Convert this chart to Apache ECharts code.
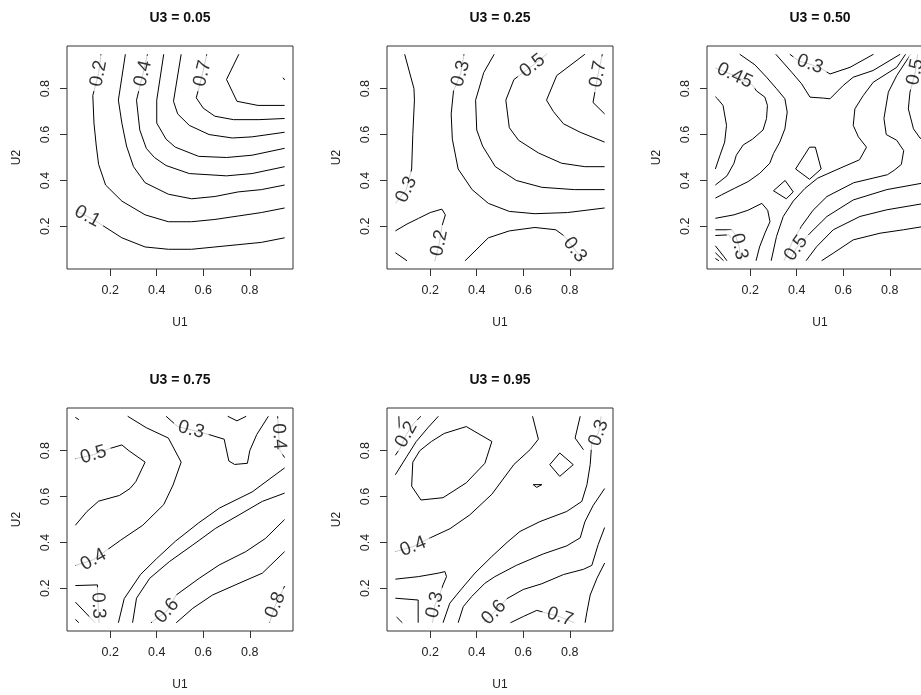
<!DOCTYPE html>
<html><head><meta charset="utf-8">
<script src="https://cdn.jsdelivr.net/npm/echarts@6/dist/echarts.min.js"></script>
<style>html,body{margin:0;padding:0;background:#fff;overflow:hidden}#chart{width:960px;height:695px}</style>
</head><body><div id="chart"></div>
<script>
// ---------- data ----------
const panelTitles = ['U3 = 0.05', 'U3 = 0.25', 'U3 = 0.50', 'U3 = 0.75', 'U3 = 0.95'];
const tickValues = [0.2, 0.4, 0.6, 0.8];
const axisMin = 0.014, axisMax = 0.986;
const xName = 'U1', yName = 'U2';

// contour polylines, [U1, U2] pairs
const p1Lines = [
  [[0.05,0.27],[0.102,0.243],[0.15,0.215],[0.25,0.15],[0.35,0.11],[0.45,0.10],[0.55,0.10],[0.65,0.11],[0.75,0.12],[0.85,0.13],[0.95,0.15]],
  [[0.16,0.95],[0.15,0.866],[0.125,0.77],[0.13,0.65],[0.14,0.55],[0.15,0.47],[0.18,0.38],[0.25,0.31],[0.35,0.25],[0.45,0.22],[0.55,0.22],[0.65,0.23],[0.75,0.245],[0.85,0.26],[0.95,0.28]],
  [[0.265,0.95],[0.25,0.85],[0.235,0.75],[0.25,0.65],[0.27,0.55],[0.30,0.46],[0.35,0.39],[0.45,0.34],[0.55,0.32],[0.65,0.33],[0.75,0.35],[0.85,0.36],[0.95,0.38]],
  [[0.36,0.95],[0.341,0.866],[0.313,0.75],[0.327,0.62],[0.355,0.54],[0.39,0.50],[0.44,0.465],[0.54,0.43],[0.70,0.42],[0.81,0.43],[0.95,0.46]],
  [[0.43,0.95],[0.40,0.75],[0.40,0.65],[0.44,0.58],[0.48,0.545],[0.58,0.505],[0.70,0.50],[0.81,0.51],[0.95,0.54]],
  [[0.505,0.95],[0.472,0.745],[0.49,0.69],[0.54,0.64],[0.625,0.60],[0.725,0.585],[0.81,0.59],[0.95,0.61]],
  [[0.615,0.95],[0.597,0.866],[0.57,0.76],[0.60,0.715],[0.65,0.68],[0.73,0.665],[0.84,0.665],[0.95,0.67]],
  [[0.753,0.95],[0.70,0.84],[0.745,0.745],[0.835,0.727],[0.95,0.727]],
  [[0.943,0.848],[0.95,0.838]]
];
const p2Lines = [
  [[0.09,0.95],[0.13,0.80],[0.132,0.75],[0.125,0.60],[0.12,0.45],[0.097,0.36],[0.05,0.30]],
  [[0.345,0.95],[0.331,0.866],[0.30,0.79],[0.29,0.69],[0.295,0.58],[0.32,0.45],[0.38,0.36],[0.45,0.30],[0.54,0.265],[0.65,0.255],[0.79,0.26],[0.95,0.28]],
  [[0.475,0.95],[0.43,0.87],[0.395,0.75],[0.40,0.62],[0.425,0.55],[0.48,0.46],[0.57,0.40],[0.68,0.37],[0.82,0.36],[0.95,0.36]],
  [[0.70,0.95],[0.64,0.90],[0.56,0.84],[0.525,0.75],[0.54,0.63],[0.58,0.575],[0.665,0.52],[0.765,0.475],[0.865,0.46],[0.95,0.46]],
  [[0.865,0.95],[0.744,0.857],[0.70,0.75],[0.73,0.70],[0.773,0.647],[0.845,0.61],[0.95,0.567]],
  [[0.94,0.95],[0.922,0.863],[0.90,0.74],[0.95,0.69]],
  [[0.05,0.18],[0.10,0.21],[0.15,0.235],[0.20,0.26],[0.25,0.275],[0.265,0.25],[0.25,0.20],[0.239,0.127],[0.22,0.05]],
  [[0.05,0.085],[0.10,0.05]],
  [[0.35,0.05],[0.41,0.11],[0.45,0.15],[0.54,0.18],[0.65,0.195],[0.74,0.185],[0.78,0.155],[0.822,0.098],[0.86,0.05]]
];
const p3Lines = [
  [[0.05,0.765],[0.06,0.755],[0.083,0.727],[0.098,0.64],[0.09,0.567],[0.07,0.51],[0.05,0.45]],
  [[0.05,0.89],[0.133,0.857],[0.21,0.815],[0.227,0.79],[0.263,0.763],[0.274,0.727],[0.27,0.67],[0.255,0.62],[0.21,0.58],[0.17,0.555],[0.14,0.51],[0.13,0.475],[0.10,0.42],[0.05,0.38]],
  [[0.155,0.95],[0.22,0.904],[0.27,0.85],[0.313,0.80],[0.349,0.756],[0.359,0.698],[0.349,0.625],[0.327,0.567],[0.30,0.517],[0.284,0.475],[0.241,0.431],[0.191,0.395],[0.133,0.366],[0.076,0.337],[0.05,0.323]],
  [[0.37,0.95],[0.41,0.92],[0.457,0.907],[0.51,0.885],[0.543,0.864],[0.629,0.893],[0.73,0.95]],
  [[0.31,0.95],[0.378,0.872],[0.421,0.821],[0.457,0.763],[0.514,0.759],[0.543,0.756],[0.60,0.814],[0.643,0.85],[0.728,0.879],[0.845,0.95]],
  [[0.868,0.95],[0.83,0.893],[0.729,0.828],[0.686,0.77],[0.65,0.712],[0.643,0.64],[0.665,0.59],[0.70,0.545],[0.67,0.49],[0.59,0.455],[0.49,0.41],[0.435,0.365],[0.385,0.31],[0.342,0.243],[0.313,0.156],[0.29,0.05]],
  [[0.89,0.95],[0.83,0.857],[0.794,0.785],[0.775,0.67],[0.785,0.60],[0.83,0.575],[0.86,0.53],[0.85,0.47],[0.82,0.445],[0.79,0.425],[0.645,0.39],[0.53,0.33],[0.47,0.27],[0.42,0.20],[0.38,0.13],[0.345,0.05]],
  [[0.92,0.95],[0.91,0.873],[0.887,0.785],[0.88,0.712],[0.902,0.625],[0.93,0.585],[0.95,0.575]],
  [[0.37,0.05],[0.397,0.104],[0.457,0.17],[0.53,0.243],[0.643,0.315],[0.787,0.36],[0.95,0.39]],
  [[0.44,0.05],[0.486,0.112],[0.557,0.185],[0.672,0.243],[0.787,0.272],[0.95,0.30]],
  [[0.507,0.05],[0.557,0.083],[0.643,0.141],[0.758,0.17],[0.859,0.185],[0.95,0.20]],
  [[0.05,0.235],[0.13,0.25],[0.19,0.27],[0.25,0.30],[0.275,0.27],[0.285,0.22],[0.265,0.175],[0.24,0.11],[0.225,0.05]],
  [[0.05,0.185],[0.12,0.185],[0.135,0.165],[0.152,0.112],[0.16,0.05]],
  [[0.05,0.16],[0.11,0.163],[0.115,0.15]],
  [[0.05,0.115],[0.085,0.07],[0.10,0.05]],
  [[0.05,0.085],[0.085,0.05]],
  [[0.05,0.06],[0.065,0.05]],
  [[0.395,0.45],[0.455,0.545],[0.48,0.545],[0.505,0.45],[0.455,0.405],[0.395,0.45]],
  [[0.30,0.355],[0.35,0.40],[0.385,0.35],[0.355,0.32],[0.30,0.355]]
];
const p4Lines = [
  [[0.05,0.945],[0.065,0.935]],
  [[0.05,0.765],[0.128,0.782],[0.20,0.81],[0.25,0.825],[0.28,0.80],[0.35,0.75],[0.31,0.665],[0.285,0.635],[0.24,0.605],[0.15,0.58],[0.10,0.535],[0.05,0.475]],
  [[0.275,0.95],[0.355,0.90],[0.45,0.855],[0.505,0.75],[0.47,0.65],[0.43,0.565],[0.34,0.475],[0.245,0.41],[0.128,0.325],[0.05,0.30]],
  [[0.44,0.95],[0.49,0.905],[0.548,0.891],[0.625,0.87],[0.69,0.85],[0.71,0.755],[0.735,0.74],[0.79,0.745],[0.80,0.80],[0.83,0.87],[0.88,0.95]],
  [[0.705,0.95],[0.745,0.93],[0.785,0.95]],
  [[0.92,0.95],[0.925,0.862],[0.93,0.80],[0.95,0.77]],
  [[0.235,0.05],[0.26,0.155],[0.33,0.26],[0.40,0.33],[0.48,0.405],[0.58,0.485],[0.67,0.55],[0.81,0.62],[0.87,0.665],[0.95,0.725]],
  [[0.296,0.05],[0.313,0.157],[0.37,0.244],[0.455,0.317],[0.555,0.389],[0.654,0.462],[0.754,0.52],[0.854,0.579],[0.95,0.615]],
  [[0.375,0.05],[0.444,0.101],[0.484,0.171],[0.583,0.244],[0.669,0.302],[0.783,0.36],[0.868,0.418],[0.95,0.50]],
  [[0.484,0.05],[0.555,0.113],[0.64,0.171],[0.754,0.222],[0.854,0.266],[0.95,0.36]],
  [[0.95,0.21],[0.91,0.127],[0.885,0.05]],
  [[0.05,0.212],[0.145,0.215],[0.145,0.19],[0.148,0.125],[0.152,0.05]],
  [[0.05,0.14],[0.135,0.05]],
  [[0.05,0.065],[0.065,0.05]]
];
const p5Lines = [
  [[0.065,0.95],[0.067,0.895]],
  [[0.05,0.78],[0.07,0.81],[0.097,0.87],[0.13,0.92],[0.16,0.95]],
  [[0.235,0.95],[0.19,0.90],[0.14,0.84],[0.10,0.776],[0.05,0.695]],
  [[0.125,0.75],[0.155,0.80],[0.205,0.84],[0.26,0.875],[0.355,0.905],[0.465,0.84],[0.435,0.745],[0.355,0.66],[0.255,0.595],[0.16,0.585],[0.12,0.645],[0.125,0.75]],
  [[0.05,0.36],[0.126,0.382],[0.20,0.42],[0.285,0.46],[0.37,0.52],[0.465,0.61],[0.56,0.74],[0.63,0.805],[0.665,0.85],[0.64,0.95]],
  [[0.845,0.95],[0.823,0.855],[0.859,0.804]],
  [[0.935,0.95],[0.924,0.877],[0.895,0.84],[0.888,0.74],[0.874,0.652],[0.852,0.579],[0.787,0.535],[0.672,0.491],[0.586,0.448],[0.53,0.40],[0.464,0.338],[0.392,0.266],[0.349,0.215],[0.313,0.171],[0.284,0.135],[0.255,0.05]],
  [[0.714,0.739],[0.757,0.79],[0.815,0.739],[0.757,0.688],[0.714,0.739]],
  [[0.643,0.652],[0.68,0.652],[0.658,0.64],[0.643,0.652]],
  [[0.32,0.05],[0.342,0.12],[0.378,0.164],[0.435,0.222],[0.478,0.251],[0.57,0.30],[0.686,0.35],[0.787,0.385],[0.845,0.42],[0.865,0.49],[0.90,0.56],[0.95,0.635]],
  [[0.43,0.05],[0.474,0.095],[0.53,0.155],[0.60,0.195],[0.68,0.22],[0.773,0.26],[0.859,0.283],[0.895,0.30],[0.922,0.39],[0.95,0.465]],
  [[0.545,0.05],[0.60,0.077],[0.658,0.104],[0.69,0.095],[0.758,0.076],[0.82,0.05]],
  [[0.95,0.31],[0.917,0.244],[0.888,0.171],[0.874,0.098],[0.866,0.05]],
  [[0.05,0.24],[0.149,0.251],[0.234,0.266],[0.263,0.273],[0.27,0.251],[0.255,0.215],[0.236,0.16],[0.22,0.128],[0.21,0.05]],
  [[0.05,0.157],[0.148,0.149],[0.148,0.05]],
  [[0.055,0.075],[0.08,0.05]]
];

// contour labels: [text, U1, U2]
const p1Labels = [['0.1',0.102,0.243],['0.2',0.15,0.866],['0.4',0.341,0.866],['0.7',0.597,0.866]];
const p2Labels = [['0.3',0.097,0.36],['0.3',0.331,0.866],['0.5',0.64,0.90],['0.7',0.922,0.863],['0.2',0.239,0.127],['0.3',0.822,0.098]];
const p3Labels = [['0.45',0.133,0.857],['0.3',0.457,0.907],['0.5',0.91,0.873],['0.3',0.152,0.112],['0.5',0.397,0.104]];
const p4Labels = [['0.5',0.128,0.782],['0.4',0.128,0.325],['0.3',0.548,0.891],['0.4',0.925,0.862],['0.6',0.444,0.101],['0.8',0.91,0.127],['0.3',0.148,0.125]];
const p5Labels = [['0.2',0.097,0.87],['0.4',0.126,0.382],['0.3',0.924,0.877],['0.3',0.22,0.128],['0.6',0.474,0.095],['0.7',0.758,0.076]];

// ---------- layout & styling ----------
const panels = [
  {lines: p1Lines, labels: p1Labels},
  {lines: p2Lines, labels: p2Labels},
  {lines: p3Lines, labels: p3Labels},
  {lines: p4Lines, labels: p4Labels},
  {lines: p5Lines, labels: p5Labels}
];
const layout = [
  {left: 67, top: 46}, {left: 387, top: 46}, {left: 707, top: 46},
  {left: 67, top: 408}, {left: 387, top: 408}
];
const W = 226, H = 223;
const FONT = 'Liberation Sans, Arial, sans-serif';
const sx = W / (axisMax - axisMin), sy = H / (axisMax - axisMin);

// label angle along its contour line (R-style: text kept upright)
function labelAngle(lines, x, y) {
  let best = null, bestD = Infinity;
  lines.forEach(pts => {
    for (let i = 0; i < pts.length - 1; i++) {
      const ax = pts[i][0] * sx, ay = pts[i][1] * sy;
      const bx = pts[i + 1][0] * sx, by = pts[i + 1][1] * sy;
      const px = x * sx, py = y * sy;
      const dx = bx - ax, dy = by - ay;
      const L2 = dx * dx + dy * dy || 1e-9;
      let t = ((px - ax) * dx + (py - ay) * dy) / L2;
      t = Math.max(0, Math.min(1, t));
      const qx = ax + t * dx, qy = ay + t * dy;
      const d = Math.hypot(px - qx, py - qy);
      if (d < bestD - 1e-9) { bestD = d; best = {pts, i, t}; }
    }
  });
  const p = best.pts;
  let a = p[best.i], b = p[best.i + 1];
  if (best.t < 0.02 && best.i > 0) a = p[best.i - 1];
  if (best.t > 0.98 && best.i + 2 < p.length) b = p[best.i + 2];
  let ang = Math.atan2((b[1] - a[1]) * sy, (b[0] - a[0]) * sx) * 180 / Math.PI;
  if (ang > 90) ang -= 180;
  if (ang <= -90) ang += 180;
  return ang;
}

const grids = [], xAxes = [], yAxes = [], titles = [], series = [];
panels.forEach((pn, k) => {
  const g = layout[k];
  grids.push({left: g.left, top: g.top, width: W, height: H, show: true,
    borderColor: '#333', borderWidth: 1, backgroundColor: 'transparent', z: 10});
  titles.push({text: panelTitles[k], left: g.left + W / 2, top: g.top - 35, textAlign: 'center', padding: 0,
    textStyle: {fontSize: 14, fontWeight: 'bold', fontFamily: FONT, color: '#111'}});
  const common = {
    gridIndex: k, type: 'value', min: axisMin, max: axisMax,
    axisLine: {show: false}, splitLine: {show: false},
    axisTick: {show: true, length: 7, inside: false, customValues: tickValues, lineStyle: {color: '#333', width: 1}},
    nameLocation: 'middle',
    nameTextStyle: {fontSize: 12, fontFamily: FONT, color: '#222'}
  };
  xAxes.push(Object.assign({}, common, {
    axisLabel: {customValues: tickValues, margin: 15, fontSize: 12.5, fontFamily: FONT, color: '#222',
      formatter: v => v.toFixed(1)},
    name: xName, nameGap: 48
  }));
  yAxes.push(Object.assign({}, common, {
    axisLabel: {customValues: tickValues, margin: 15, fontSize: 12.5, fontFamily: FONT, color: '#222', rotate: 90,
      formatter: v => v.toFixed(1)},
    name: yName, nameGap: 44, nameRotate: 90
  }));
  pn.lines.forEach(pts => {
    series.push({type: 'line', xAxisIndex: k, yAxisIndex: k, data: pts, showSymbol: false, symbol: 'none',
      lineStyle: {color: '#000', width: 1}, silent: true, animation: false, z: 2, clip: true});
  });
  series.push({type: 'scatter', xAxisIndex: k, yAxisIndex: k, symbolSize: 0, silent: true, animation: false, z: 3,
    data: pn.labels.map(l => ({name: l[0], value: [l[1], l[2]],
      label: {rotate: labelAngle(pn.lines, l[1], l[2])}})),
    label: {show: true, position: 'inside', formatter: '{b}', fontSize: 19, fontFamily: FONT, color: '#000',
      backgroundColor: '#fff', padding: [0, 5]}
  });
});

const chart = echarts.init(document.getElementById('chart'), null, {renderer: 'canvas'});
chart.setOption({
  backgroundColor: '#fff',
  animation: false,
  title: titles,
  grid: grids,
  xAxis: xAxes,
  yAxis: yAxes,
  series: series
});
</script>
</body></html>
